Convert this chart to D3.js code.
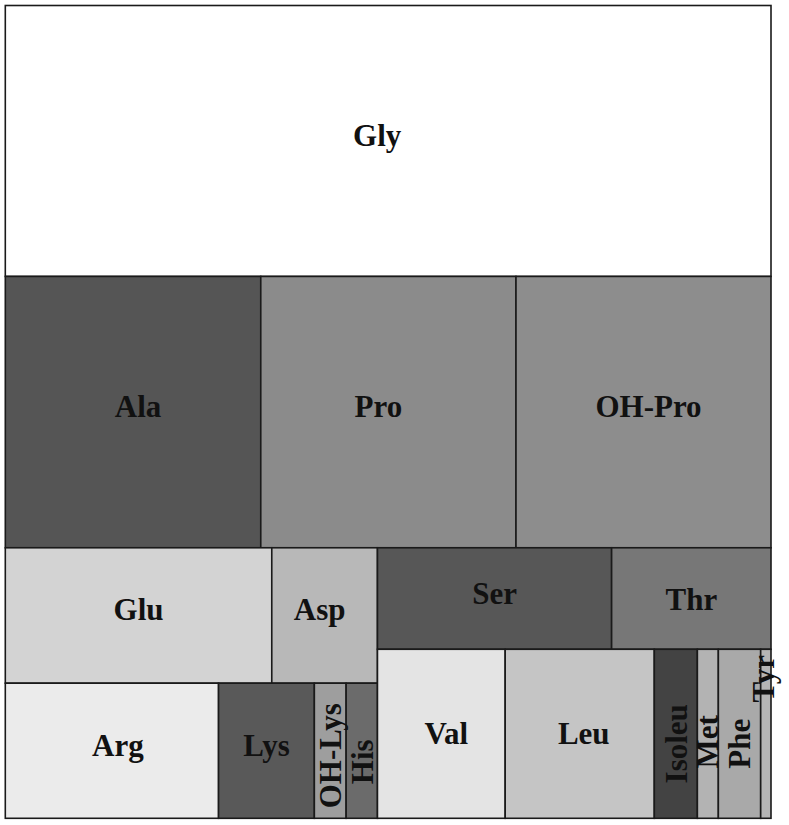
<!DOCTYPE html>
<html>
<head>
<meta charset="utf-8">
<script src="https://cdn.jsdelivr.net/npm/d3@7"></script>
<style>
  body { margin: 0; background: #fff; }
  svg { display: block; }
</style>
</head>
<body>
<svg width="789" height="825"></svg>
<script>
// amino acid composition (residues per 1000)
var acids    = ["Gly", "Ala", "Pro", "OH-Pro", "Glu", "Asp", "Arg", "Lys", "OH-Lys", "His",
                "Ser", "Thr", "Val", "Leu", "Isoleu", "Met", "Phe", "Tyr"];
var residues = [333.4, 111.4, 111.3, 111.2, 58.0, 23.0, 46.3, 20.8, 6.9, 6.8,
                38.2, 26.0, 34.7, 40.5, 11.7, 5.7, 11.5, 2.8];
// where each acid sits: row, column block, band inside the block
var rowOf  = ["1", "2", "2", "2", "3", "3", "3", "3", "3", "3", "3", "3", "3", "3", "3", "3", "3", "3"];
var colOf  = ["a", "a", "a", "a", "L", "L", "L", "L", "L", "L", "R", "R", "R", "R", "R", "R", "R", "R"];
var bandOf = ["a", "a", "a", "a", "t", "t", "b", "b", "b", "b", "t", "t", "b", "b", "b", "b", "b", "b"];

var shades = ["#ffffff", "#555555", "#8b8b8b", "#8d8d8d", "#d3d3d3", "#b8b8b8", "#ebebeb", "#595959",
              "#9e9e9e", "#6b6b6b", "#575757", "#777777", "#e4e4e4", "#c5c5c5", "#434343", "#b3b3b3",
              "#a9a9a9", "#b5b5b5"];

// small hand nudges of the labels, like in the original figure
var nudge = {
  "Gly": [-11, 0], "Ala": [5, 0], "Pro": [-10, 0], "OH-Pro": [5, 0],
  "Asp": [-5, 0], "Arg": [6, 0], "Thr": [0, 6], "Val": [5, 5], "Leu": [4, 5],
  "OH-Lys": [0, 5], "His": [1, 11], "Isoleu": [1, 10], "Met": [0, 8], "Phe": [0, 10], "Tyr": [-2, -55]
};

var data = acids.map(function(name, i){
  return {name: name, value: residues[i], row: rowOf[i], col: colOf[i], band: bandOf[i], color: shades[i]};
});

var svg = d3.select("svg");
var x0 = 5.3, y0 = 5.5, W = 765.7, H = 812.8;

var root = d3.hierarchy(d3.group(data, d => d.row, d => d.col, d => d.band))
    .sum(d => d.value);

// alternate: stack rows, then split sideways, and so on
d3.treemap()
    .size([W, H])
    .round(false)
    .tile(function(node, a, b, c, d){
      (node.depth % 2 ? d3.treemapDice : d3.treemapSlice)(node, a, b, c, d);
    })(root);

var g = svg.append("g").attr("transform", "translate(" + x0 + "," + y0 + ")");
var leaves = root.leaves();

g.selectAll("rect")
  .data(leaves)
  .join("rect")
    .attr("x", d => d.x0)
    .attr("y", d => d.y0)
    .attr("width", d => d.x1 - d.x0)
    .attr("height", d => d.y1 - d.y0)
    .attr("fill", d => d.data.color)
    .attr("stroke", "#1a1a1a")
    .attr("stroke-width", 1.6);

g.selectAll("text")
  .data(leaves)
  .join("text")
    .attr("transform", function(d){
      var n = nudge[d.data.name] || [0, 0];
      var cx = (d.x0 + d.x1) / 2 + n[0], cy = (d.y0 + d.y1) / 2 + n[1];
      var narrow = (d.x1 - d.x0) < 50;
      return "translate(" + cx + "," + cy + ")" + (narrow ? " rotate(-90)" : "");
    })
    .attr("dy", d => (d.x1 - d.x0) < 50 ? 10.5 : 5)
    .attr("text-anchor", "middle")
    .attr("font-family", "'Liberation Serif', 'Times New Roman', serif")
    .attr("font-weight", "bold")
    .attr("font-size", 31)
    .attr("fill", "#111")
    .text(d => d.data.name);
</script>
</body>
</html>
